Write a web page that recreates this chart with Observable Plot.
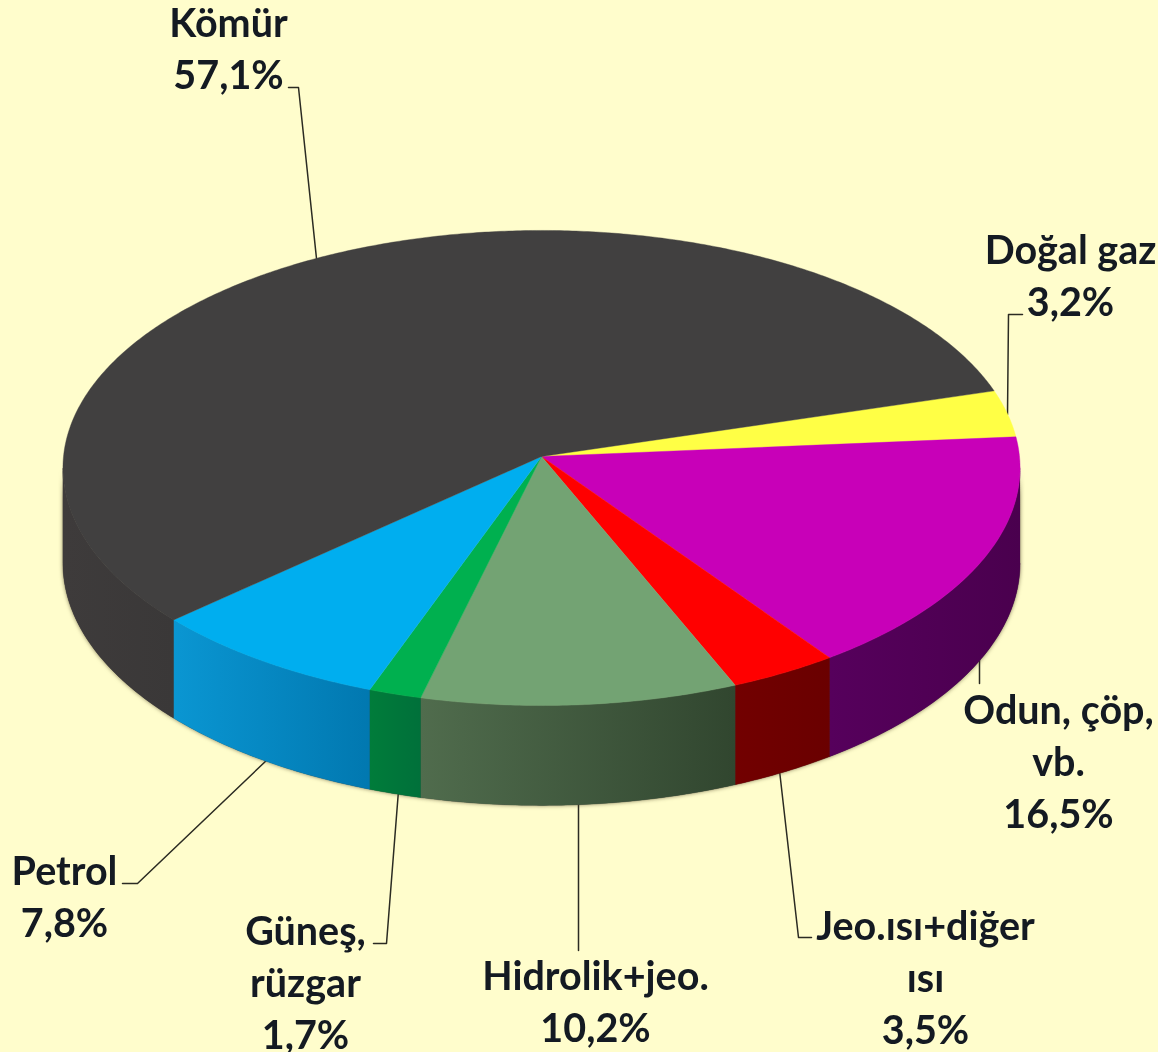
<!DOCTYPE html>
<html lang="tr">
<head>
<meta charset="utf-8">
<style>
html,body{margin:0;padding:0;background:#FFFDCC;overflow:hidden}
svg{display:block}
</style>
<script src="https://cdn.jsdelivr.net/npm/d3@7"></script>
<script src="https://cdn.jsdelivr.net/npm/@observablehq/plot@0.6"></script>
</head>
<body>
<div id="chart"></div>
<script>
// Data, in the drawing order of the pie (clockwise from Doğal gaz)
const names = ["Doğal gaz", "Odun, çöp, vb.", "Jeo.ısı+diğer ısı", "Hidrolik+jeo.", "Güneş, rüzgar", "Petrol", "Kömür"];
const shares = [3.2, 16.5, 3.5, 10.2, 1.7, 7.8, 57.1];
const labelLines = ["Doğal gaz", "Odun, çöp,\nvb.", "Jeo.ısı+diğer\nısı", "Hidrolik+jeo.", "Güneş,\nrüzgar", "Petrol", "Kömür"];

// Styles
const topColors = ["#FFFF45", "#C800B8", "#FF0000", "#73A373", "#00B04F", "#00AEEF", "#414040"];
const sideLight = ["#9a9a30", "#56005C", "#720000", "#506C4D", "#007C3A", "#0A96D2", "#3E3B3B"];
const sideDark  = ["#9a9a30", "#4A004E", "#6A0000", "#31462F", "#00703A", "#0178B0", "#3A3838"];

// Layout of the tilted pie, in pixels
const W = 1158, H = 1052;
const cx = 541, cy = 456, rx = 478, ry = 237, tilt = 0.0484, depth = 95, startAngle = 16.3;
// Angles where the projected rim turns away from the viewer
const rimLo = -177.2, rimHi = -2.8;
// Layout of labels: block centre per slice
const labelX = [1070, 1058, 925, 595, 305, 64, 228];
const labelY = [272.5, 759, 975, 999, 980, 894, 46];
// Leader lines, in the same order
const leaders = [
  [[1022, 314], [1008, 314], [1007, 414]],
  [[979, 650], [979, 683]],
  [[779, 770], [798, 937], [811, 937]],
  [[578, 800], [578, 950]],
  [[398, 790], [386, 943], [373, 943]],
  [[268, 758], [137, 883], [122, 883]],
  [[288, 87], [298, 87], [316, 258]]
];

const project = (deg, drop = 0) => {
  const t = deg * Math.PI / 180, X = Math.cos(t), Y = Math.sin(t), w = 1 + tilt * Y;
  return {x: cx + rx * X / w, y: cy - ry * Y / w + drop / w};
};
const arc = (a0, a1, drop = 0) => {
  const n = Math.max(2, Math.ceil(Math.abs(a1 - a0) * 2));
  return d3.range(n + 1).map(i => project(a0 + (a1 - a0) * i / n, drop));
};

// Angular extent of each slice from its share
let cum = startAngle;
const slices = names.map((name, i) => {
  const a0 = cum, a1 = cum - shares[i] * 3.6;
  cum = a1;
  return {name, i, a0, a1};
});

const tops = slices.flatMap(s => [{x: cx, y: cy}, ...arc(s.a0, s.a1), {x: cx, y: cy}].map(p => ({...p, name: s.name})));

// Side walls: only the part of each slice turned towards the viewer
const sideOf = s => {
  const l = Math.max(s.a1, rimLo), h = Math.min(s.a0, rimHi);
  return h > l ? [...arc(h, l), ...arc(l, h, depth)] : null;
};

const leaderRows = leaders.flatMap((pts, i) => pts.map(([x, y]) => ({x, y, i})));
const pct = v => v.toFixed(1).replace(".", ",") + "%";
const labels = names.map((n, i) => ({text: labelLines[i] + "\n" + pct(shares[i]), x: labelX[i], y: labelY[i]}));

const defs = () => {
  const g = document.createElementNS("http://www.w3.org/2000/svg", "g");
  g.innerHTML = "<defs>" + names.map((_, i) =>
    `<linearGradient id="side${i}" x1="0" x2="1" y1="0" y2="0"><stop offset="0" stop-color="${sideLight[i]}"/><stop offset="1" stop-color="${sideDark[i]}"/></linearGradient>`
  ).join("") + "</defs>";
  return g;
};

const sideMarks = slices.map(s => {
  const pts = sideOf(s);
  return pts ? Plot.line(pts, {x: "x", y: "y", fill: `url(#side${s.i})`, stroke: `url(#side${s.i})`, strokeWidth: 0.4, curve: "linear"}) : null;
});

const chart = Plot.plot({
  width: W, height: H, margin: 0,
  style: {background: "#FFFDCC"},
  x: {domain: [0, W], range: [0, W], axis: null},
  y: {domain: [0, H], range: [0, H], axis: null},
  color: {domain: names, range: topColors},
  marks: [
    defs,
    Plot.line(leaderRows, {x: "x", y: "y", z: "i", stroke: "#2b2b22", strokeWidth: 1.5, curve: "linear"}),
    Plot.line(arc(rimLo, rimHi, depth).concat(arc(rimHi, rimLo)), {x: "x", y: "y", fill: "#3a3838", imageFilter: "drop-shadow(0 0 2px rgba(70,60,30,.7))"}),
    ...sideMarks,
    Plot.line(tops, {x: "x", y: "y", z: "name", fill: "name", stroke: "name", strokeWidth: 0.4, curve: "linear"}),
    Plot.text(labels, {
      x: "x", y: "y", text: "text",
      fontFamily: "Lato, 'Open Sans', sans-serif", fontWeight: 700, fontSize: 39.5,
      lineHeight: 1.32, fill: "#141a22", textAnchor: "middle", imageFilter: "blur(0.5px)"
    })
  ]
});
document.getElementById("chart").appendChild(chart);
</script>
</body>
</html>
